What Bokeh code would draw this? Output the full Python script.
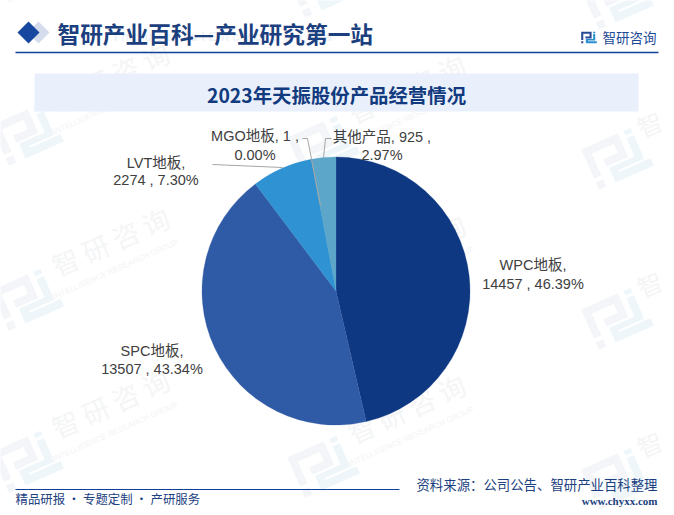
import math
from bokeh.plotting import figure
from bokeh.models import Range1d
from bokeh.core.properties import value
from bokeh.embed import file_html
from bokeh.resources import INLINE

# ---- data ----
categories = ["WPC地板", "SPC地板", "LVT地板", "MGO地板", "其他产品"]
values = [14457, 13507, 2274, 1, 925]
shares = ["46.39%", "43.34%", "7.30%", "0.00%", "2.97%"]
colors = ["#0e3882", "#2f5aa5", "#2f92d2", "#2f92d2", "#5ba6c9"]
title_text = "2023年天振股份产品经营情况"
header_text = "智研产业百科—产业研究第一站"
brand_text = "智研咨询"
source_text = "资料来源：公司公告、智研产业百科整理"
site_text = "www.chyxx.com"
slogan_text = "精品研报 · 专题定制 · 产研服务"

CJK = "Liberation Sans, Noto Sans CJK SC"
SANS = "Noto Sans CJK SC"
H = 515


def Y(py):
    return H - py


p = figure(width=674, height=515, output_backend="svg", toolbar_location=None,
           x_range=Range1d(0, 674), y_range=Range1d(0, 515),
           min_border=0, outline_line_color=None, background_fill_color="white")
p.xaxis.visible = False
p.yaxis.visible = False
p.grid.visible = False

# ---- watermark tiles ----
GRAY = [
    [(-30, -22), (10, -22), (10, 4), (-14, 4), (-14, -4), (2, -4), (2, -14), (-22, -14), (-22, 10), (-30, 10)],
    [(-30, 14), (-22, 14), (-22, 22), (-30, 22)],
]
BLUE = [
    [(16, -14), (24, -14), (24, 12), (-4, 12), (-4, 14), (30, 14), (30, 22), (-12, 22), (-12, 6), (16, 6)],
    [(16, -22), (24, -22), (24, -17), (16, -17)],
]


def logo(cx, cy, scale, angle, gray, blue):
    c, s = math.cos(angle), math.sin(angle)
    for polys, col in ((GRAY, gray), (BLUE, blue)):
        xs, ys = [], []
        for poly in polys:
            xs.append([cx + scale * (u * c + v * s) for u, v in poly])
            ys.append([Y(cy + scale * (-u * s + v * c)) for u, v in poly])
        p.patches(xs, ys, fill_color=col, line_color=None)


WM_ANGLE = math.radians(24)
tiles = [(27, y) for y in (-30, 133, 298, 460)] + \
        [(323, y) for y in (-15, 145, 305, 465)] + \
        [(617, y) for y in (-3, 157, 317, 477)]

for tx, ty in tiles:
    logo(tx, ty, 1.0, WM_ANGLE, "#f3f5f8", "#eef6fa")
    if ty < 0:
        continue
    if tx > 600:
        p.text([tx + 32], [Y(ty - 34)], text=[brand_text[0]], angle=WM_ANGLE,
               text_font=value(SANS), text_font_size="25px", text_color="#f4f5f6",
               text_align="center", text_baseline="middle")
        continue
    for i, ch in enumerate(brand_text):
        p.text([tx + 38 + i * 30], [Y(ty - 37 - i * 13.5)], text=[ch], angle=WM_ANGLE,
               text_font=value(SANS), text_font_size="27px", text_color="#f4f5f6",
               text_align="center", text_baseline="middle")
    p.text([tx + 88], [Y(ty - 29)], text=["INTELLIGENCE RESEARCH GROUP"], angle=WM_ANGLE,
           text_font=value("Liberation Sans"), text_font_size="8px", text_color="#f3f4f6",
           text_align="center", text_baseline="middle")

# ---- header ----
p.text([226], [Y(36)], text=["I n d u s t r i a l   E n c y c l o p e d i a"],
       text_font=value("Liberation Sans"), text_font_size="13px", text_font_style="bold",
       text_color="#eef2f8", text_align="center", text_baseline="middle")
p.patch([38, 49, 38, 27], [Y(21), Y(32), Y(43), Y(32)], fill_color="#d5dcec", line_color=None)
p.patch([28, 39, 28, 17], [Y(21), Y(32), Y(43), Y(32)], fill_color="#17479e", line_color=None)
p.text([57], [Y(33)], text=[header_text], text_font=value(SANS), text_font_size="22.7px",
       text_font_style="bold", text_color="#1c3f80", text_align="left", text_baseline="middle")
p.line([15, 658], [Y(52), Y(52)], line_color="#11409b", line_width=1.5)
logo(588.5, 37, 0.26, 0, "#2a4a94", "#2a8fd0")
p.text([602], [Y(36)], text=[brand_text], text_font=value(SANS), text_font_size="13.5px",
       text_color="#1c4a96", text_align="left", text_baseline="middle")

# ---- title band ----
p.quad(left=[34], right=[638], top=[Y(73)], bottom=[Y(111)], fill_color="#e9f0fb", line_color=None)
p.text([336], [Y(93.5)], text=[title_text], text_font=value(SANS), text_font_size="19.4px",
       text_font_style="bold", text_color="#123a7f", text_align="center", text_baseline="middle")

# ---- pie ----
total = sum(values)
cx, cy, radius = 335.5, 290.5, 134
acc = 0.0
starts, ends = [], []
for v in values:
    starts.append(math.pi / 2 - acc / total * 2 * math.pi)
    acc += v
    ends.append(math.pi / 2 - acc / total * 2 * math.pi)
p.wedge(x=[cx] * len(values), y=[Y(cy)] * len(values), radius=radius,
        start_angle=starts, end_angle=ends, direction="clock",
        fill_color=colors, line_color=colors, line_width=0.3)

# ---- leader lines ----
LEADER = "#a6a6a6"
p.line([212, 282], [Y(164), Y(167)], line_color=LEADER, line_width=1)
p.line([302, 307, 320], [Y(138), Y(138), Y(205)], line_color=LEADER, line_width=1)
p.line([331, 325, 323], [Y(138), Y(138), Y(157)], line_color=LEADER, line_width=1)

# ---- data labels ----
label_pos = [(532.5, 264, 283), (151.5, 350, 368), (155.5, 162, 179), (254.5, 135.5, 154), (381.5, 136, 154)]
line1 = [f"{categories[0]},", f"{categories[1]},", f"{categories[2]},",
         f"{categories[3]}, {values[3]} ,", f"{categories[4]}, {values[4]} ,"]
line2 = [f"{values[0]} , {shares[0]}", f"{values[1]} , {shares[1]}", f"{values[2]} , {shares[2]}",
         shares[3], shares[4]]
for (lx, y1, y2), a, b in zip(label_pos, line1, line2):
    p.text([lx, lx], [Y(y1), Y(y2)], text=[a, b], text_font=value(CJK), text_font_size="14.5px",
           text_color="#404040", text_align="center", text_baseline="middle")

# ---- footer ----
p.line([15, 399], [Y(489), Y(489)], line_color="#11409b", line_width=1.2)
p.text([15], [Y(498)], text=[slogan_text], text_font=value(SANS), text_font_size="12.4px",
       text_color="#1c3f80", text_align="left", text_baseline="middle")
p.text([657], [Y(483)], text=[source_text], text_font=value(SANS), text_font_size="13.4px",
       text_color="#1c3f80", text_align="right", text_baseline="middle")
p.text([657], [Y(500)], text=[site_text], text_font=value("Liberation Serif"), text_font_size="11px",
       text_font_style="bold", text_color="#1c3f80", text_align="right", text_baseline="middle")

open("out.html", "w").write(file_html(p, INLINE))
